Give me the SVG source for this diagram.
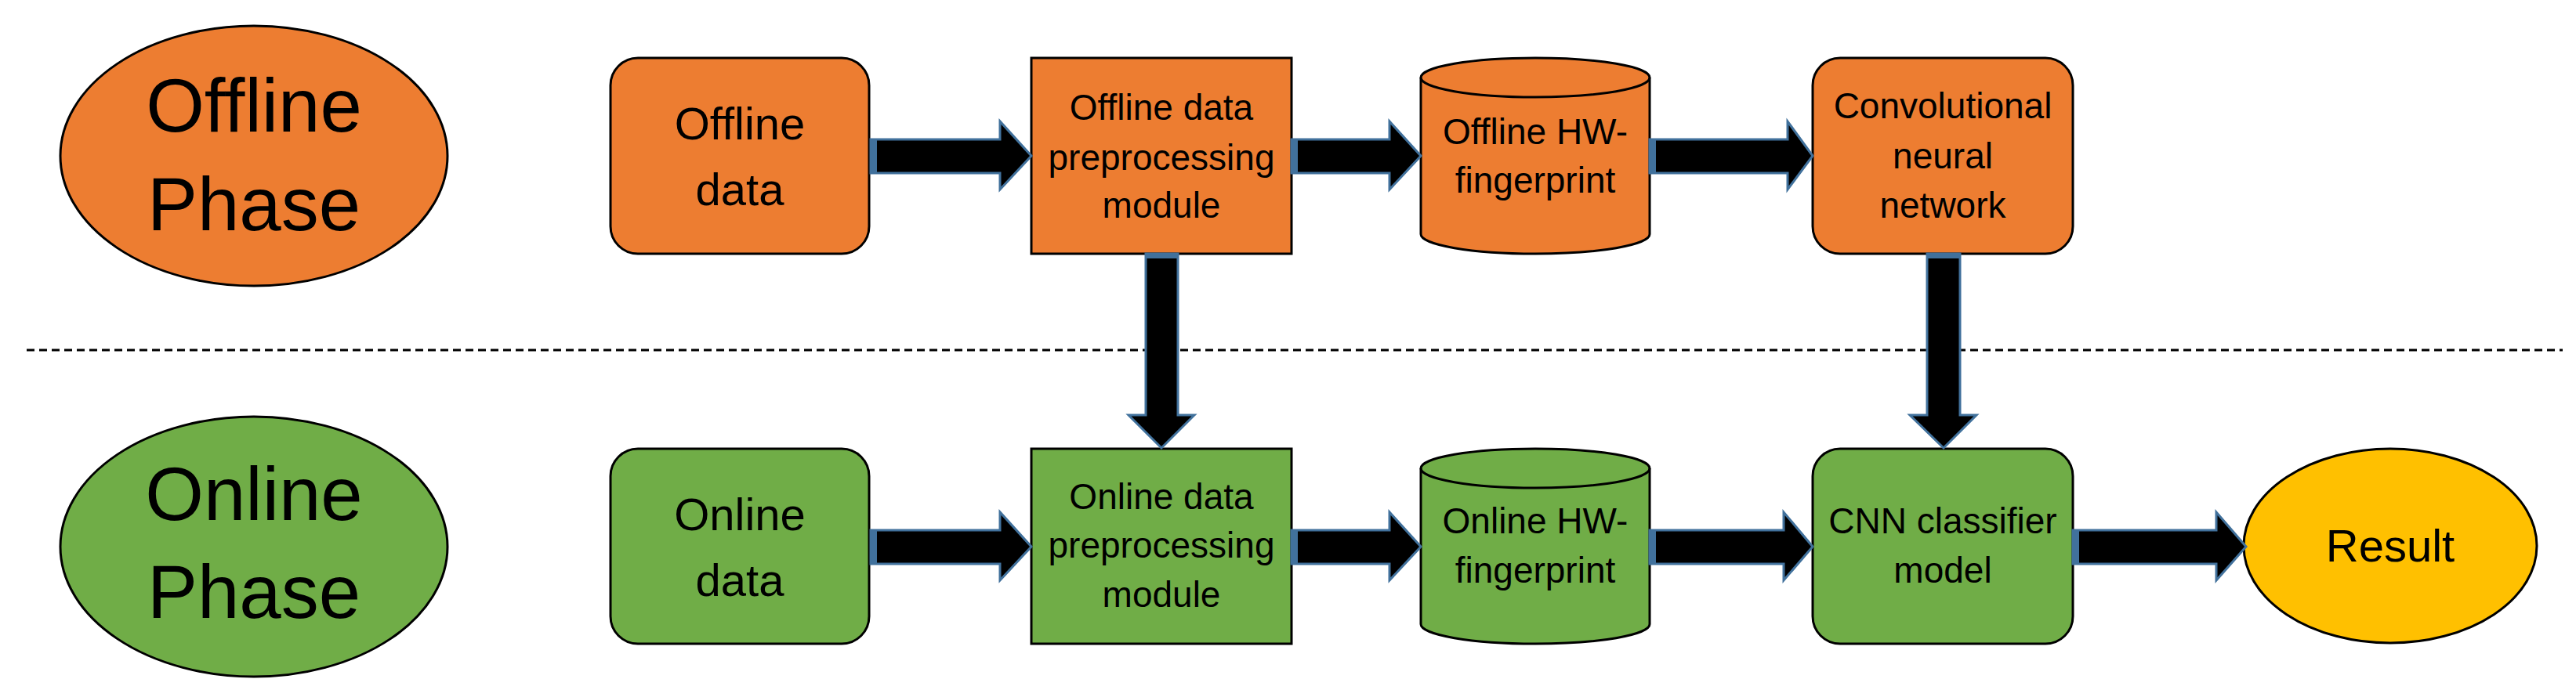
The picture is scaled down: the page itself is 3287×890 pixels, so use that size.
<svg xmlns="http://www.w3.org/2000/svg" width="3287" height="890" viewBox="0 0 3287 890">
<style>
.o{fill:#ED7D31;stroke:#000;stroke-width:3}
.g{fill:#70AD47;stroke:#000;stroke-width:3}
.y{fill:#FFC000;stroke:#000;stroke-width:3}
text{font-family:"Liberation Sans Narrow","Liberation Sans",sans-serif;text-anchor:middle;fill:#000}
.big{font-size:96px}
.md{font-size:58px}
.sm{font-size:46px}
.ar{fill:#000;stroke:#41719C;stroke-width:3}
.bar{fill:#41719C}
</style>
<line x1="34" y1="447" x2="3270" y2="447" stroke="#000" stroke-width="3" stroke-dasharray="10,6"/>
<g id="offline-phase"><ellipse class="o" cx="324" cy="199" rx="247" ry="166"/><text class="big" x="324" y="168">Offline</text><text class="big" x="324" y="294">Phase</text></g>
<g id="online-phase"><ellipse class="g" cx="324" cy="698" rx="247" ry="166"/><text class="big" x="324" y="664">Online</text><text class="big" x="324" y="789">Phase</text></g>
<g id="offline-data"><rect class="o" x="779" y="74" width="330" height="250" rx="35"/><text class="md" x="944" y="178">Offline</text><text class="md" x="944" y="262">data</text></g>
<g id="offline-pre"><rect class="o" x="1316" y="74" width="332" height="250"/><text class="sm" x="1482" y="153">Offline data</text><text class="sm" x="1482" y="217">preprocessing</text><text class="sm" x="1482" y="278">module</text></g>
<g id="offline-hw"><path class="o" d="M1813,99 A146,25 0 0 1 2105,99 V299 A146,25 0 0 1 1813,299 Z"/><path d="M1813,99 A146,25 0 0 0 2105,99" fill="none" stroke="#000" stroke-width="3"/><text class="sm" x="1959" y="184">Offline HW-</text><text class="sm" x="1959" y="246">fingerprint</text></g>
<g id="cnn"><rect class="o" x="2313" y="74" width="332" height="250" rx="35"/><text class="sm" x="2479" y="151">Convolutional</text><text class="sm" x="2479" y="215">neural</text><text class="sm" x="2479" y="278">network</text></g>
<g id="online-data"><rect class="g" x="779" y="573" width="330" height="249" rx="35"/><text class="md" x="944" y="677">Online</text><text class="md" x="944" y="761">data</text></g>
<g id="online-pre"><rect class="g" x="1316" y="573" width="332" height="249"/><text class="sm" x="1482" y="650">Online data</text><text class="sm" x="1482" y="712">preprocessing</text><text class="sm" x="1482" y="775">module</text></g>
<g id="online-hw"><path class="g" d="M1813,598 A146,25 0 0 1 2105,598 V797 A146,25 0 0 1 1813,797 Z"/><path d="M1813,598 A146,25 0 0 0 2105,598" fill="none" stroke="#000" stroke-width="3"/><text class="sm" x="1959" y="681">Online HW-</text><text class="sm" x="1959" y="744">fingerprint</text></g>
<g id="cnn-classifier"><rect class="g" x="2313" y="573" width="332" height="249" rx="35"/><text class="sm" x="2479" y="681">CNN  classifier</text><text class="sm" x="2479" y="744">model</text></g>
<g id="result"><ellipse class="y" cx="3050" cy="697" rx="187" ry="124"/><text class="md" x="3050" y="717">Result</text></g>
<g id="connectors">
<path class="ar" d="M1111,178 H1276 V155 L1316,199 L1276,242 V221 H1111 Z"/><rect class="bar" x="1111" y="178" width="8" height="43"/>
<path class="ar" d="M1648,178 H1773 V155 L1813,199 L1773,242 V221 H1648 Z"/><rect class="bar" x="1648" y="178" width="8" height="43"/>
<path class="ar" d="M2105,178 H2281 V155 L2313,199 L2281,242 V221 H2105 Z"/><rect class="bar" x="2105" y="178" width="8" height="43"/>
<path class="ar" d="M1111,677 H1276 V654 L1316,698 L1276,741 V720 H1111 Z"/><rect class="bar" x="1111" y="677" width="8" height="43"/>
<path class="ar" d="M1648,677 H1773 V654 L1813,698 L1773,741 V720 H1648 Z"/><rect class="bar" x="1648" y="677" width="8" height="43"/>
<path class="ar" d="M2105,677 H2276 V654 L2313,698 L2276,741 V720 H2105 Z"/><rect class="bar" x="2105" y="677" width="8" height="43"/>
<path class="ar" d="M2645,677 H2828 V654 L2866,698 L2828,741 V720 H2645 Z"/><rect class="bar" x="2645" y="677" width="8" height="43"/>
<path class="ar" d="M1462,324 V530 H1440 L1482,572 L1524,530 H1503 V324 Z"/><rect class="bar" x="1462" y="324" width="41" height="6"/>
<path class="ar" d="M2459,324 V530 H2437 L2480,572 L2522,530 H2501 V324 Z"/><rect class="bar" x="2459" y="324" width="42" height="6"/>
</g>
</svg>
